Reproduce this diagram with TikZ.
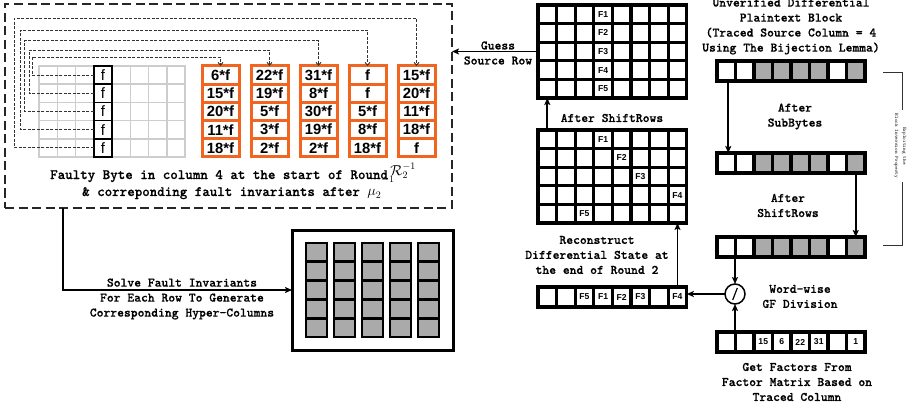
\documentclass[tikz,border=0pt]{standalone}
\usepackage{fontspec}
\setsansfont{Liberation Sans}
\newfontfamily\courb{lmmonolt10-bold.otf}[FakeBold=0.6]
\newfontfamily\courr{lmmono10-regular.otf}
\usetikzlibrary{arrows.meta}
\definecolor{forange}{RGB}{241,101,33}
\definecolor{fgray}{RGB}{170,170,170}
\definecolor{lgray}{RGB}{205,205,205}
\begin{document}
\begin{tikzpicture}[x=1pt,y=-1pt,
  lbl/.style={font=\fontsize{13}{15}\selectfont\courb, align=center, inner sep=0pt},
  captxt/.style={font=\fontsize{14.3}{17}\selectfont\courb, inner sep=0pt},
  arr/.style={line width=1.8pt, -{Stealth[length=7pt,width=6pt,inset=1.5pt]}},
  dconn/.style={line width=0.9pt, dash pattern=on 3pt off 1.5pt, draw=black!80, -{Straight Barb[length=3pt,width=5pt]}},
  bcell/.style={draw=black, line width=3.2pt, fill=white, inner sep=0pt, outer sep=0pt, font=\fontsize{8.6}{9}\selectfont\sffamily\bfseries},
  gcell/.style={draw=lgray, line width=1.5pt, fill=white, minimum width=18.25pt, minimum height=18.2pt, inner sep=0pt, outer sep=0pt, font=\fontsize{15}{15}\selectfont\sffamily},
  ocell/.style={draw=forange, line width=3pt, fill=white, minimum width=37pt, minimum height=18.2pt, inner sep=0pt, outer sep=0pt, font=\fontsize{14.8}{14.8}\selectfont\sffamily\bfseries},
  hcell/.style={draw=black, line width=2.8pt, fill=fgray, minimum width=21pt, minimum height=18.8pt, inner sep=0pt, outer sep=0pt},
]
\useasboundingbox (0,0) rectangle (907,406);

% dashed frame
\node[draw=black!85, line width=1.6pt, dash pattern=on 9pt off 4.5pt, minimum width=447pt, minimum height=204pt, outer sep=0pt, inner sep=0pt] (dbox) at (228.5,106) {};

% gray grid
\foreach \c in {1,2,3,5,6,7,8}{\foreach \r in {1,...,5}{
  \node[gcell] (gg-\c-\r) at ({39+(\c-0.5)*18.25},{66+(\r-0.5)*18.2}) {};
}}
\foreach \r in {1,...,5}{
  \node[gcell, draw=black] (gg-4-\r) at ({39+3.5*18.25},{66+(\r-0.5)*18.2}) {f};
}

% orange columns
\foreach \k/\a/\b/\cc/\d/\e in {1/6*f/15*f/20*f/11*f/18*f, 2/22*f/19*f/5*f/3*f/2*f, 3/31*f/8*f/30*f/19*f/2*f, 4/f/f/5*f/8*f/18*f, 5/15*f/20*f/11*f/18*f/f}{
  \foreach \r/\t in {1/\a,2/\b,3/\cc,4/\d,5/\e}{
    \node[ocell] (oc-\k-\r) at ({220.5+(\k-1)*49},{66+(\r-0.5)*18.2}) {\t};
  }
}

% dashed connectors
\foreach \r/\xl/\yl in {1/32/57, 2/29/50, 3/24.3/40.7, 4/20.7/30, 5/14.3/18.3}{
  \draw[dconn] (gg-4-\r.west) -| (\xl,\yl) -| (oc-\r-1.north);
}

% caption
\node[captxt, anchor=base west] (cap1) at (50,179) {Faulty Byte in column 4 at the start of Round\,\raisebox{4pt}{$\mathcal{R}_2^{-1}$}};
\node[captxt, anchor=base west] (cap2) at (82,196) {\& correponding fault invariants after $\mu_2$\raisebox{13pt}{$\scriptstyle -1$}};

% grid A
\foreach \c in {1,...,8}{\foreach \r in {1,...,5}{
  \node[bcell, minimum width=18.6pt, minimum height=18.6pt] (gA-\c-\r) at ({538+(\c-0.5)*18.6},{5+(\r-0.5)*18.6}) {\ifnum\c=4 F\r\fi};
}}
% grid B
\foreach \r/\fc in {1/4,2/5,3/6,4/8,5/3}{\foreach \c in {1,...,8}{
  \node[bcell, minimum width=18.6pt, minimum height=18.6pt] (gB-\c-\r) at ({538+(\c-0.5)*18.6},{130+(\r-0.5)*18.6}) {\ifnum\c=\fc F\r\fi};
}}
% rows A B C
\foreach \n/\yc in {A/71,B/163,C/247}{
  \foreach \c/\f in {1/white,2/white,3/fgray,4/fgray,5/fgray,6/fgray,7/white,8/fgray}{
    \node[bcell, fill=\f, minimum width=18.5pt, minimum height=20pt] (\n-\c) at ({717+(\c-0.5)*18.5},\yc) {};
  }
}
% reconstructed row
\foreach \c/\t in {1/{},2/{},3/F5,4/F1,5/F2,6/F3,7/{},8/F4}{
  \node[bcell, minimum width=18.6pt, minimum height=20pt] (R-\c) at ({538+(\c-0.5)*18.6},297) {\t};
}
% factor row
\foreach \c/\t in {1/{},2/{},3/15,4/6,5/22,6/31,7/{},8/1}{
  \node[bcell, minimum width=18.5pt, minimum height=20pt] (Fr-\c) at ({717+(\c-0.5)*18.5},342) {\t};
}

% hyper-columns
\node[draw, line width=3pt, minimum width=161pt, minimum height=120pt, outer sep=0pt, inner sep=0pt] (hbox) at (372.5,290) {};
\foreach \k in {1,...,5}{\foreach \r in {1,...,5}{
  \node[hcell] (hc-\k-\r) at ({316.5+(\k-1)*28},{243+(\r-0.5)*18.8}) {};
}}

% division circle
\node[circle, draw, line width=1.5pt, minimum size=20pt, inner sep=0pt, outer sep=0pt, fill=white] (circ) at (735,294) {};
\draw[line width=1.2pt] ([shift={(-2.3,6)}]circ.center) -- ([shift={(2.3,-6)}]circ.center);

% arrows
\draw[arr] ([xshift=58pt]dbox.south west) |- (hbox.west);
\draw[arr] (gA-1-3.west) -- (gA-1-3.west -| dbox.east);
\draw[arr] (gB-1-1.north) -- (gA-1-5.south);
\draw[arr] (R-8.north) -- (gB-8-5.south);
\draw[arr] (circ.west) -- (circ.west -| R-8.east);
\draw[arr] (circ.north |- C-1.south) -- (circ.north);
\draw[arr] (circ.south |- Fr-1.north) -- (circ.south);
\draw[arr] ([xshift=2pt]A-1.south) -- ([xshift=2pt]B-1.north);
\draw[arr] (B-8.south) -- (C-8.north);

% bracket
\draw[line width=0.9pt, draw=black!80] (883,72) -- (902,72) -- (902,245) -- (883,245);
\node[rotate=-90, fill=white, font=\fontsize{5.1}{8}\selectfont\courr, align=center, inner xsep=4pt, inner ysep=0.5pt] (brt) at (900,146) {Exploiting the\\Block Inversion Property};

% labels
\node[lbl] (guess) at (498,53) {Guess\\Source Row};
\node[lbl] (asr1) at (612,118) {After ShiftRows};
\node[lbl] (recon) at (597,255) {Reconstruct\\Differential State at\\the end of Round 2};
\node[lbl] (unver) at (791,26.5) {Unverified Differential\\Plaintext Block\\(Traced Source Column = 4\\Using The Bijection Lemma)};
\node[lbl] (asb) at (795,116.5) {After\\SubBytes};
\node[lbl] (asr2) at (788,205.5) {After\\ShiftRows};
\node[lbl] (gfd) at (800,296.5) {Word-wise\\GF Division};
\node[lbl] (gfac) at (797,382) {Get Factors From\\Factor Matrix Based on\\Traced Column};
\node[lbl] (solve) at (182,299) {Solve Fault Invariants\\For Each Row To Generate\\Corresponding Hyper-Columns};
\end{tikzpicture}
\end{document}
